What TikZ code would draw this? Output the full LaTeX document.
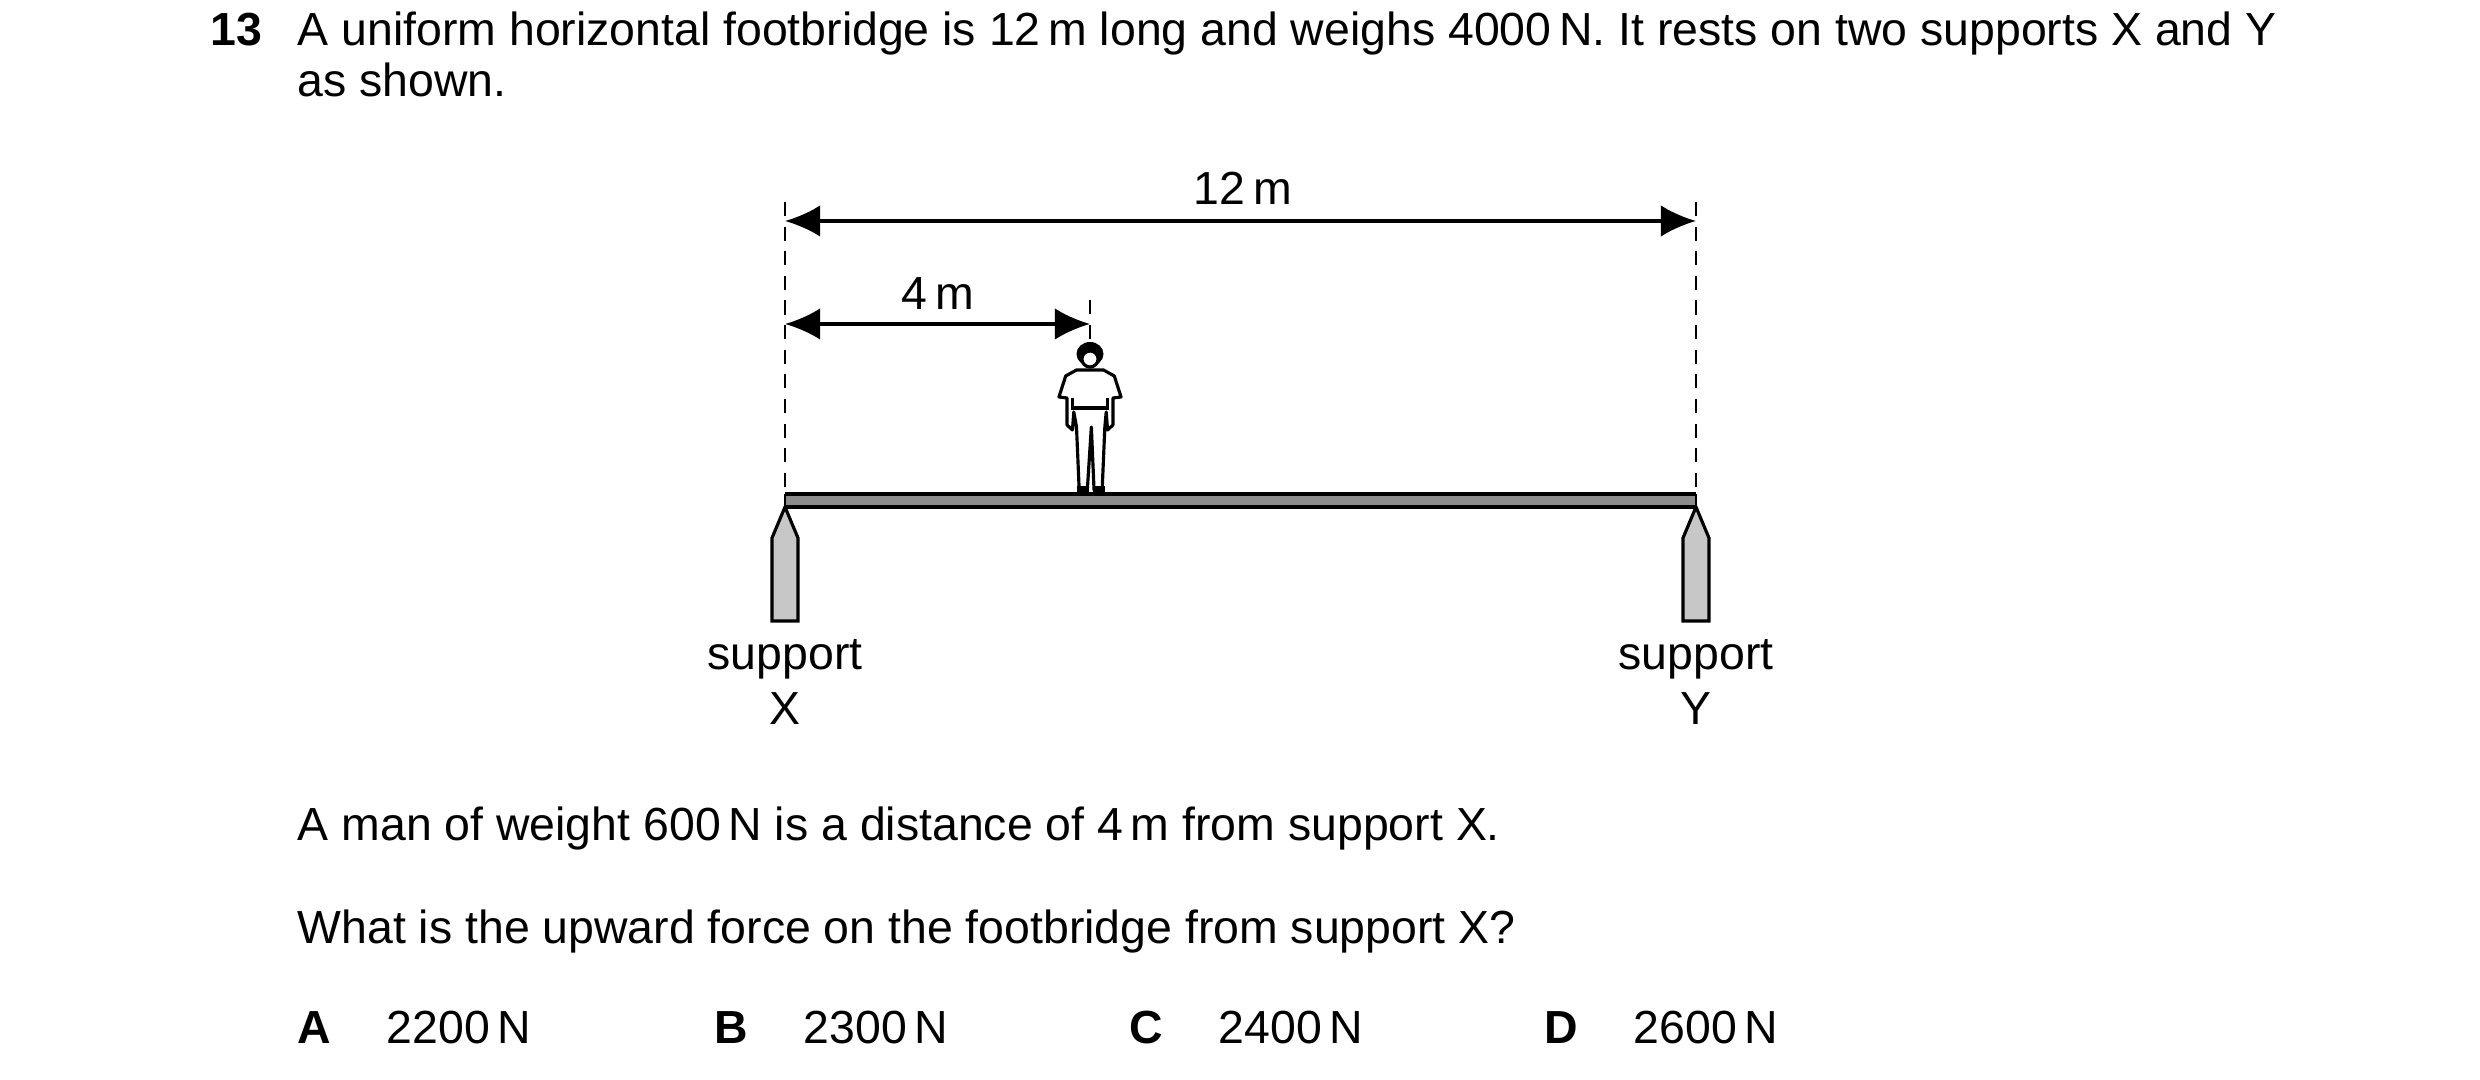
\documentclass[tikz,border=0pt]{standalone}
\usepackage{fontspec}
\setmainfont{Liberation Sans}
\usetikzlibrary{arrows.meta}
\begin{document}
\begin{tikzpicture}[x=0.01cm, y=-0.01cm,
    txt/.style={anchor=base west, inner sep=0pt, font=\fontsize{13.2}{16}\selectfont},
    lbl/.style={anchor=base, inner sep=0pt, font=\fontsize{13.2}{16}\selectfont},
    dim/.style={line width=1pt, {Latex[length=10pt,width=9pt]}-{Latex[length=10pt,width=9pt]}},
    guide/.style={line width=0.5pt, dash pattern=on 4pt off 3pt},
    post/.style={fill=black!22, draw=black, line width=0.9pt}]
  \useasboundingbox (0,0) rectangle (2480,1080);

  % question text
  \node[txt, font=\fontsize{13.2}{16}\selectfont\bfseries] (num) at (210,46) {13};
  \node[txt] (q1) at (297,46) {A uniform horizontal footbridge is 12\,m long and weighs 4000\,N. It rests on two supports X and Y};
  \node[txt] (q2) at (297,97) {as shown.};

  % guide lines
  \coordinate (xtop) at (785,202);
  \coordinate (ytop) at (1696,202);
  \coordinate (xbot) at (785,494);
  \coordinate (ybot) at (1696,494);
  \coordinate (mtop) at (1090,300);
  \coordinate (mbot) at (1090,342);
  \draw[guide] (xtop) -- (xbot);
  \draw[guide] (ytop) -- (ybot);
  \draw[guide] (mtop) -- (mbot);

  % dimensions
  \coordinate (a12) at (785,221);
  \coordinate (b12) at (1696,221);
  \coordinate (a4) at (785,324);
  \coordinate (b4) at (1090,324);
  \draw[dim] (a12) -- (b12);
  \draw[dim] (a4) -- (b4);
  \node[lbl] (l12) at (1243,205) {12\,m};
  \node[lbl] (l4) at (938,310) {4\,m};

  % footbridge
  \fill[black!45] (785,494) rectangle (1696,507);
  \draw[line width=1.2pt] (785,494) -- (1696,494);
  \draw[line width=1.2pt] (785,507) -- (1696,507);
  \draw[line width=0.5pt] (785,494) -- (785,507) (1696,494) -- (1696,507);

  % supports
  \draw[post] (785,507) -- (798,538) -- (798,621) -- (772,621) -- (772,538) -- cycle;
  \draw[post] (1696,507) -- (1709,538) -- (1709,621) -- (1683,621) -- (1683,538) -- cycle;
  \node[lbl] (sx) at (785,670) {support};
  \node[lbl] (nx) at (785,725) {X};
  \node[lbl] (sy) at (1696,670) {support};
  \node[lbl] (ny) at (1696,725) {Y};

  % man
  \begin{scope}[shift={(1090,0)}, xscale=1.35, line width=0.9pt, line join=round]
    \fill (0,354) ellipse (10 and 12);
    \draw[fill=white] (0,359) ellipse (6 and 8);
    \draw[fill=white] (-10,370) -- (10,370) -- (18,376) -- (23,397) -- (17,398)
      -- (17,425) -- (13,430) -- (12,412) -- (11,427) -- (9,490) -- (3,490)
      -- (1,427) -- (-2,490) -- (-8,490) -- (-10,427) -- (-12,412) -- (-13,430)
      -- (-17,425) -- (-17,398) -- (-23,397) -- (-18,376) -- cycle;
    \draw (-12,408) -- (12,408);
    \draw (-13,398) -- (-13,410) (13,398) -- (13,410);
    \fill (-10,486) rectangle (-1,494);
    \fill (2,486) rectangle (11,494);
  \end{scope}

  % question
  \node[txt] (q3) at (297,841) {A man of weight 600\,N is a distance of 4\,m from support X.};
  \node[txt] (q4) at (297,944) {What is the upward force on the footbridge from support X?};

  % answers
  \node[txt, font=\fontsize{13.2}{16}\selectfont\bfseries] (oa) at (297,1044) {A};
  \node[txt] (va) at (386,1044) {2200\,N};
  \node[txt, font=\fontsize{13.2}{16}\selectfont\bfseries] (ob) at (714,1044) {B};
  \node[txt] (vb) at (803,1044) {2300\,N};
  \node[txt, font=\fontsize{13.2}{16}\selectfont\bfseries] (oc) at (1129,1044) {C};
  \node[txt] (vc) at (1218,1044) {2400\,N};
  \node[txt, font=\fontsize{13.2}{16}\selectfont\bfseries] (od) at (1544,1044) {D};
  \node[txt] (vd) at (1633,1044) {2600\,N};
\end{tikzpicture}
\end{document}
